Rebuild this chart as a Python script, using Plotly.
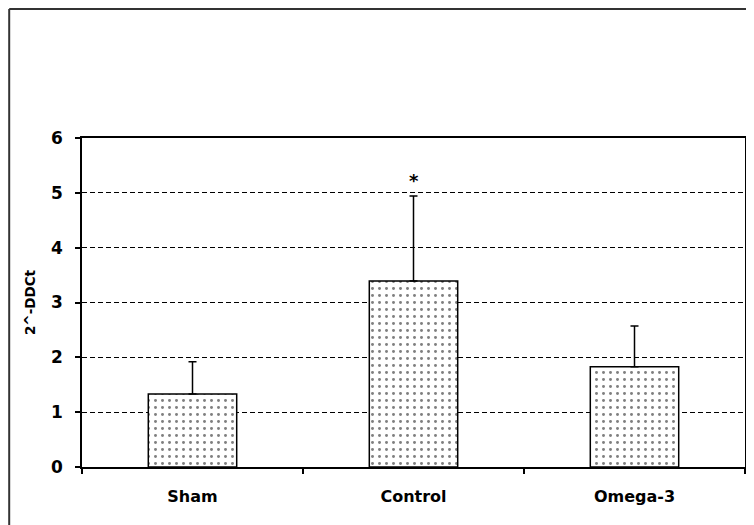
import plotly.graph_objects as go

categories = ["Sham", "Control", "Omega-3"]
values = [1.33, 3.39, 1.83]
err_plus = [0.59, 1.55, 0.74]
y_ticks = [0, 1, 2, 3, 4, 5, 6]
sig_label = "*"
sig_category = "Control"
sig_y = 5.22

font_family = "DejaVu Sans, Verdana, sans-serif"

fig = go.Figure()
fig.add_trace(go.Bar(
    x=categories,
    y=values,
    width=0.4,
    marker=dict(
        color="white",
        line=dict(color="black", width=1.5),
        pattern=dict(shape=".", fgcolor="black", bgcolor="white", size=7, solidity=0.14),
    ),
    error_y=dict(type="data", symmetric=False, array=err_plus, arrayminus=[0] * len(values),
                 color="black", thickness=1.5, width=4),
    showlegend=False,
))

fig.add_annotation(x=sig_category, y=sig_y, text=sig_label, showarrow=False,
                   font=dict(family=font_family, size=18, color="black", weight="bold"),
                   yanchor="middle")

# outer chart-area border (only top and left are inside the image)
fig.add_shape(type="line", xref="paper", yref="paper", x0=-0.1098, x1=1.05, y0=1.392, y1=1.392,
              line=dict(color="#333333", width=2))
fig.add_shape(type="line", xref="paper", yref="paper", x0=-0.1098, x1=-0.1098, y0=1.392, y1=-0.3,
              line=dict(color="#333333", width=2))

fig.update_layout(
    width=746, height=517,
    margin=dict(l=74, r=7, t=130, b=58),
    paper_bgcolor="white",
    plot_bgcolor="white",
    font=dict(family=font_family, color="black"),
    xaxis=dict(
        showline=True, linecolor="black", linewidth=1.5, mirror=True,
        ticks="outside", tickson="boundaries", ticklen=5, tickcolor="black", tickwidth=1.5,
        tickfont=dict(size=16, weight="bold", family=font_family),
        ticklabelstandoff=14,
        showgrid=False,
    ),
    yaxis=dict(
        range=[0, 6], tickvals=y_ticks,
        showline=True, linecolor="black", linewidth=1.5, mirror=True,
        ticks="outside", ticklen=5, tickcolor="black", tickwidth=1.5,
        tickfont=dict(size=17, weight="bold", family=font_family),
        ticklabelstandoff=9,
        showgrid=True, gridcolor="black", gridwidth=1, griddash="5px,3px",
        zeroline=False,
        title=dict(text="2^-DDCt", font=dict(size=13.5, weight="bold", family=font_family), standoff=12),
    ),
    bargap=0.6,
)

fig.write_html("out.html")
